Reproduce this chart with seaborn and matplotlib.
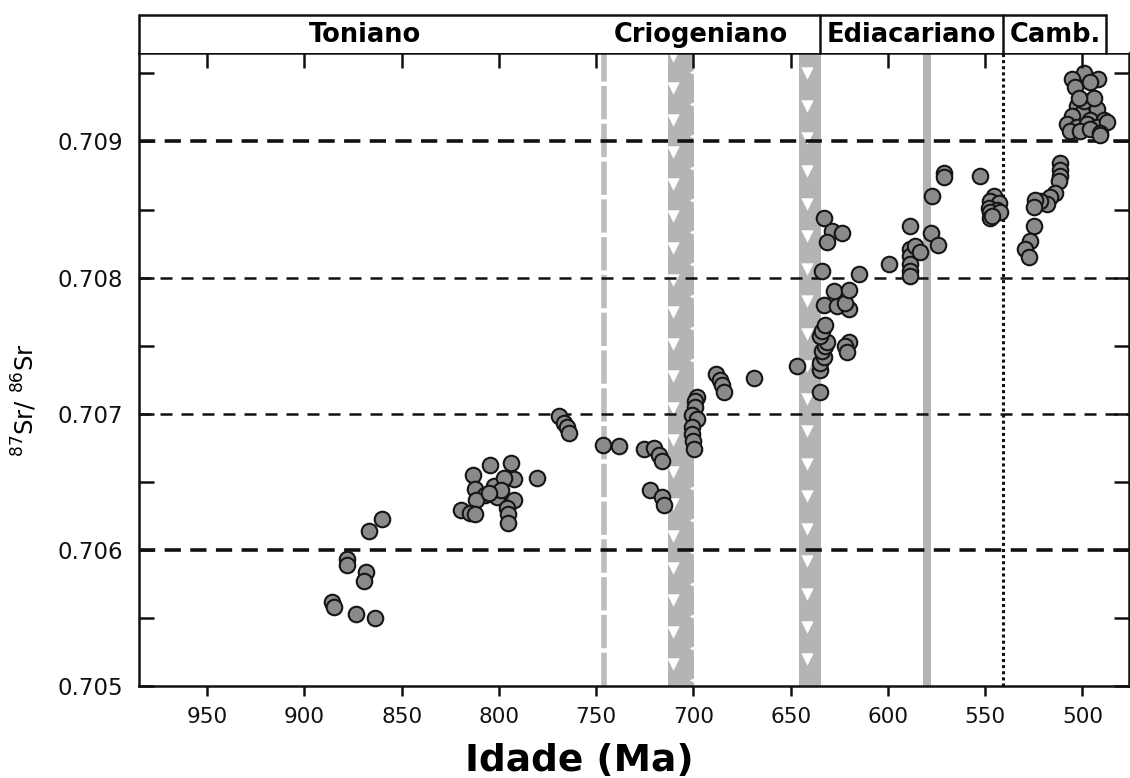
import numpy as np
import pandas as pd
import matplotlib
matplotlib.use("Agg")
import matplotlib.pyplot as plt
import seaborn as sns

# ---------------- data ----------------
ages = [
    860.3, 866.5, 877.9, 877.9, 868.5, 869.4, 886.0, 884.8, 873.3, 863.5,
    804.6, 793.6, 813.2, 792.3, 780.3, 812.0, 802.6, 797.5, 806.9, 800.8,
    792.3, 811.5, 819.7, 814.6, 812.0, 795.7, 795.4, 795.4, 799.1, 805.2,
    769.2, 766.6, 764.9, 764.0,
    746.5, 738.3, 725.5, 720.4, 717.8, 716.0, 722.4, 716.0, 715.2,
    698.0, 698.9, 698.9, 700.6, 698.0, 700.6, 700.6, 700.0, 699.8,
    688.1, 686.3, 685.3, 684.1, 669.0, 646.7,
    634.7, 634.7, 634.7, 633.0, 633.8, 632.1, 631.2, 634.7, 633.8, 632.1,
    633.0, 626.1, 620.1, 621.8, 627.8, 620.1, 633.8, 615.0, 633.0, 628.7,
    623.5, 631.2, 620.1, 621.8, 620.9,
    599.6, 588.8, 588.5, 588.5, 588.5, 588.5, 588.5, 585.8, 583.3, 577.8,
    574.4, 577.3, 571.3, 571.3, 552.4,
    545.6, 547.3, 543.0, 548.2, 543.9, 547.6, 542.2, 547.3, 546.4,
    511.3, 511.3, 511.3, 512.2, 513.9, 516.5, 518.2, 521.6, 524.2, 525.0,
    524.7, 526.8, 529.3, 527.6,
    499.3, 492.1, 505.3, 503.6, 495.9, 497.6, 502.7, 492.5, 500.2, 505.3,
    495.9, 489.1, 507.9, 502.7, 497.6, 492.5, 487.3, 506.2, 501.1, 495.9,
    490.8, 499.3, 494.2, 501.9, 490.8,
]
sr = [
    0.70623, 0.70614, 0.70593, 0.70589, 0.70584, 0.70577, 0.70562, 0.70558, 0.70553, 0.70550,
    0.70662, 0.70664, 0.70655, 0.70652, 0.70653, 0.70645, 0.70647, 0.70653, 0.70640, 0.70639,
    0.70637, 0.70637, 0.70629, 0.70627, 0.70626, 0.70631, 0.70626, 0.70620, 0.70644, 0.70642,
    0.70698, 0.70693, 0.70690, 0.70686,
    0.70677, 0.70676, 0.70674, 0.70675, 0.70670, 0.70665, 0.70644, 0.70639, 0.70633,
    0.70712, 0.70709, 0.70705, 0.70699, 0.70696, 0.70690, 0.70685, 0.70680, 0.70674,
    0.70729, 0.70725, 0.70721, 0.70716, 0.70726, 0.70735,
    0.70716, 0.70732, 0.70737, 0.70742, 0.70746, 0.70750, 0.70753, 0.70757, 0.70761, 0.70765,
    0.70780, 0.70779, 0.70777, 0.70781, 0.70790, 0.70791, 0.70805, 0.70803, 0.70844, 0.70834,
    0.70833, 0.70826, 0.70753, 0.70750, 0.70745,
    0.70810, 0.70838, 0.70821, 0.70816, 0.70810, 0.70805, 0.70801, 0.70823, 0.70819, 0.70833,
    0.70824, 0.70860, 0.70877, 0.70874, 0.70875,
    0.70860, 0.70856, 0.70855, 0.70851, 0.70850, 0.70848, 0.70848, 0.70844, 0.70845,
    0.70884, 0.70879, 0.70875, 0.70871, 0.70862, 0.70859, 0.70854, 0.70856, 0.70857, 0.70852,
    0.70838, 0.70827, 0.70821, 0.70815,
    0.70950, 0.70946, 0.70946, 0.70940, 0.70944, 0.70927, 0.70926, 0.70924, 0.70921, 0.70919,
    0.70916, 0.70916, 0.70913, 0.70911, 0.70913, 0.70911, 0.70914, 0.70908, 0.70908, 0.70909,
    0.70906, 0.70930, 0.70932, 0.70932, 0.70905,
]

period_names = ["Toniano", "Criogeniano", "Ediacariano", "Camb."]
period_label_pos = [869, 696, 588, 514]
period_box_edges = [985, 635, 541, 488]

glacial_bands = [(713.2, 699.4), (645.5, 634.3)]
gaskiers_band = (582.0, 578.0)
dashed_glacial_age = 746.0
cambrian_base = 541.0

ref_levels = [0.709, 0.708, 0.707, 0.706]
ref_widths = [2.6, 1.8, 1.8, 2.6]

x_ticks = [950, 900, 850, 800, 750, 700, 650, 600, 550, 500]
y_major = [0.705, 0.706, 0.707, 0.708, 0.709]
y_minor = [0.7055, 0.7065, 0.7075, 0.7085, 0.7095]

xlim = (985, 476)
ylim = (0.705, 0.70965)

# ---------------- style ----------------
sns.set_style("ticks")
plt.rcParams["font.family"] = ["DejaVu Sans"]
plt.rcParams["text.color"] = "black"
plt.rcParams["axes.labelcolor"] = "black"

W, H = 1130, 778
fig = plt.figure(figsize=(W / 100, H / 100), dpi=100)
ax = fig.add_axes([139 / W, 1 - 686 / H, (1129 - 139) / W, (686 - 53) / H])
hx = fig.add_axes([139 / W, 1 - 53 / H, (1129 - 139) / W, (53 - 15) / H], sharex=ax)

band_col = "#b4b4b4"
for (a0, a1) in glacial_bands:
    ax.axvspan(a1, a0, color=band_col, lw=0, zorder=1)
ax.axvspan(gaskiers_band[1], gaskiers_band[0], color=band_col, lw=0, zorder=1)
ax.axvline(dashed_glacial_age, color="#bdbdbd", lw=4, ls=(0, (6, 0.8)), zorder=1)

# white triangle decoration inside glacial bands
tri_y1 = np.arange(ylim[1] - 0.00002, ylim[0], -0.000235)
ax.scatter(np.full(tri_y1.size, glacial_bands[0][0] - 3.0), tri_y1, marker="v", s=80,
           color="white", lw=0, zorder=2)
ax.scatter(np.full(tri_y1.size, glacial_bands[0][1] + 0.6), tri_y1 - 0.00012, marker="<", s=28,
           color="white", lw=0, zorder=2)
tri_y2 = np.arange(ylim[1] - 0.00015, ylim[0], -0.000239)
ax.scatter(np.full(tri_y2.size, glacial_bands[1][0] - 4.0), tri_y2, marker="v", s=80,
           color="white", lw=0, zorder=2)

for lev, lw in zip(ref_levels, ref_widths):
    dash = (0, (4.5, 2.6)) if lw > 2 else (0, (4.8, 3.6))
    ax.axhline(lev, color="#111111", lw=lw, ls=dash, zorder=3)

ax.axvline(cambrian_base, color="#111111", lw=2.2, ls=(0, (1, 1)), zorder=3)

df = pd.DataFrame({"age": ages, "sr": sr})
sns.scatterplot(data=df, x="age", y="sr", ax=ax, s=125, color="#8a8a8a",
                edgecolor="#151515", linewidth=1.5, zorder=5, legend=False)

ax.set_xlim(*xlim)
ax.set_ylim(*ylim)
ax.set_xticks(x_ticks)
ax.set_xticklabels([str(t) for t in x_ticks], fontsize=15.5)
ax.set_yticks(y_major)
ax.set_yticklabels([f"{v:.3f}" for v in y_major], fontsize=16.5)
ax.set_yticks(y_minor, minor=True)
ax.tick_params(axis="x", direction="out", length=7, width=1.8, pad=8, colors="#111111")
ax.tick_params(axis="y", which="both", direction="in", left=True, right=True,
               length=11, width=1.8, pad=11.5, colors="#111111")
for s in ax.spines.values():
    s.set_linewidth(1.8)
    s.set_color("#111111")

ax.set_xlabel("Idade (Ma)", fontsize=27, fontweight="bold", va="baseline", color="black")
ax.xaxis.set_label_coords((579 - 139) / 990, -(771 - 686) / 633)
ax.set_ylabel(r"$^{87}$Sr/ $^{86}$Sr", fontsize=17.5, color="black")
ax.yaxis.set_label_coords(-0.101, 0.452)

# header with periods
hx.set_ylim(0, 1)
for sp in hx.spines.values():
    sp.set_visible(False)
hx.tick_params(axis="x", direction="out", length=11, width=1.8, labelbottom=False, colors="#111111")
hx.tick_params(axis="y", left=False, labelleft=False)
hx.plot([period_box_edges[0], period_box_edges[-1]], [1, 1], color="#111111", lw=1.8, clip_on=False)
for e in period_box_edges:
    hx.plot([e, e], [0, 1], color="#111111", lw=1.8, clip_on=False)
for name, pos in zip(period_names, period_label_pos):
    hx.text(pos, 0.47, name, ha="center", va="center", fontsize=18.5, fontweight="bold",
            color="black")

fig.savefig("out.png", dpi=100)
